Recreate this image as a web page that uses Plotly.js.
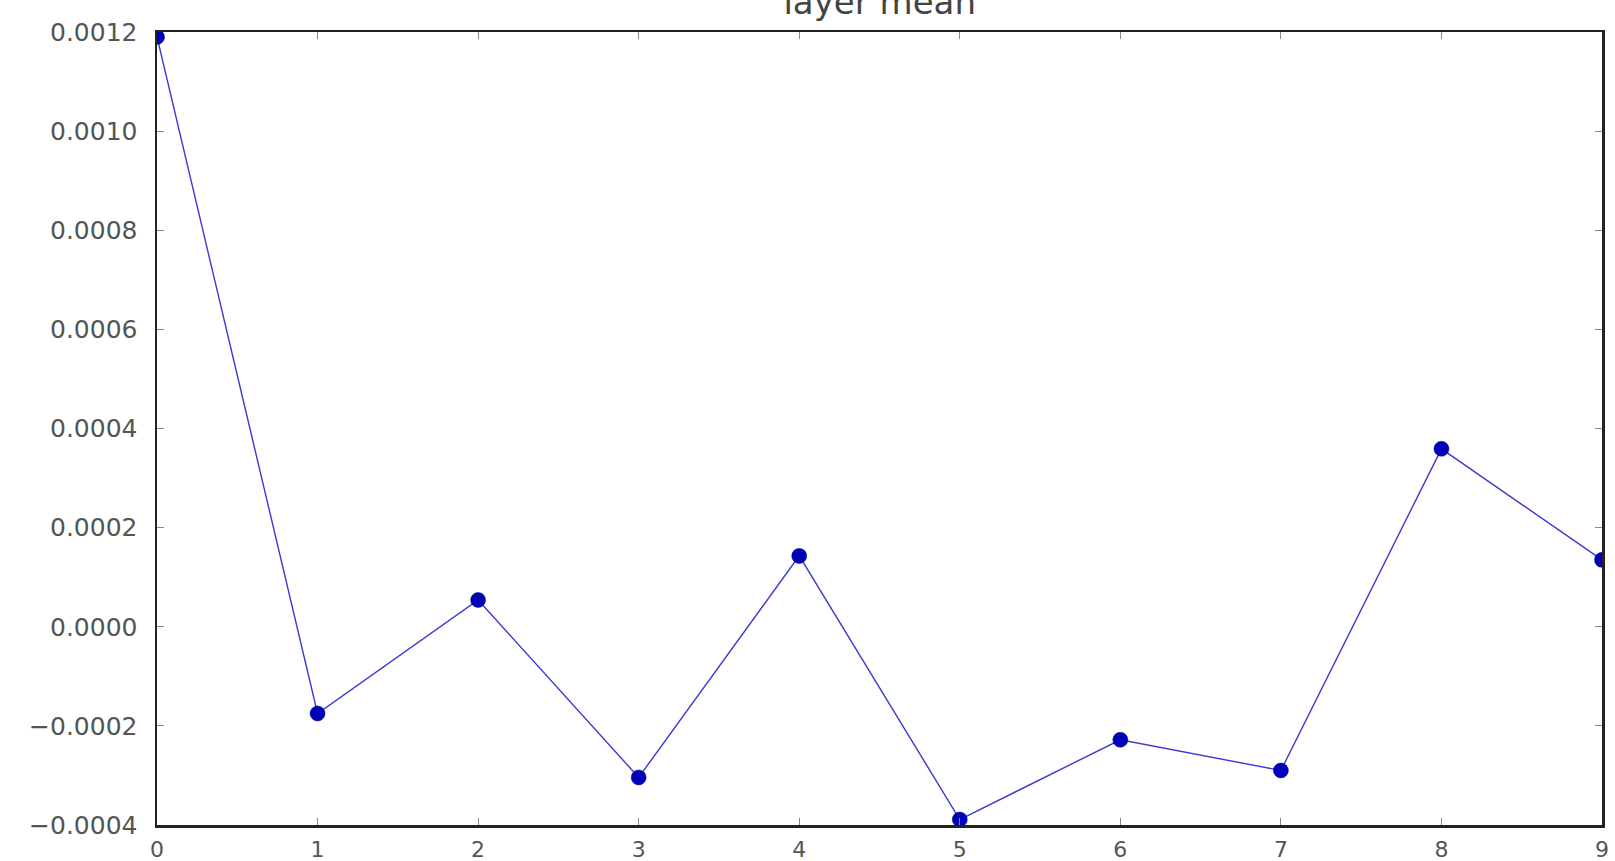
<!DOCTYPE html>
<html>
<head>
<meta charset="utf-8">
<script src="https://cdn.plot.ly/plotly-3.0.1.min.js"></script>
<style>html,body{margin:0;padding:0;background:#fff;}#chart{width:1615px;height:861px;}</style>
</head>
<body>
<div id="chart"></div>
<script>
const layers = [0, 1, 2, 3, 4, 5, 6, 7, 8, 9];
const layerMean = [0.00119, -0.000175, 0.000054, -0.000304, 0.000143, -0.000389, -0.000228, -0.00029, 0.000359, 0.000135];
const yTicks = [-0.0004, -0.0002, 0.0, 0.0002, 0.0004, 0.0006, 0.0008, 0.0010, 0.0012];

const trace = {
  x: layers,
  y: layerMean,
  mode: 'lines+markers',
  type: 'scatter',
  line: {color: '#3a3ad0', width: 1.4},
  marker: {color: '#0000b8', size: 15, line: {color: '#000080', width: 0.5}},
  cliponaxis: true,
  showlegend: false
};

const axisCommon = {
  showline: true, linecolor: '#222', linewidth: 2.5, mirror: 'ticks',
  ticks: 'inside', ticklen: 7, tickcolor: '#888', tickwidth: 1,
  showgrid: false, zeroline: false
};

const layout = {
  width: 1615, height: 861,
  paper_bgcolor: '#fff', plot_bgcolor: '#fff',
  margin: {l: 157, r: 13, t: 32, b: 36},
  title: {text: 'layer mean', font: {family: 'DejaVu Sans', size: 34, color: '#444'},
          x: 0.5447, xanchor: 'center', yref: 'container', y: 0.997, yanchor: 'middle'},
  xaxis: Object.assign({}, axisCommon, {range: [0, 9], tickvals: layers, ticktext: layers.map(String), ticklabelstandoff: 3,
    tickfont: {family: 'DejaVu Sans', size: 22, color: '#555'}}),
  yaxis: Object.assign({}, axisCommon, {range: [-0.0004, 0.0012], tickvals: yTicks, tickformat: '.4f', ticklabelstandoff: 12,
    tickfont: {family: 'DejaVu Sans', size: 25, color: '#555'}})
};

Plotly.newPlot('chart', [trace], layout, {displayModeBar: false, staticPlot: true});
</script>
</body>
</html>
